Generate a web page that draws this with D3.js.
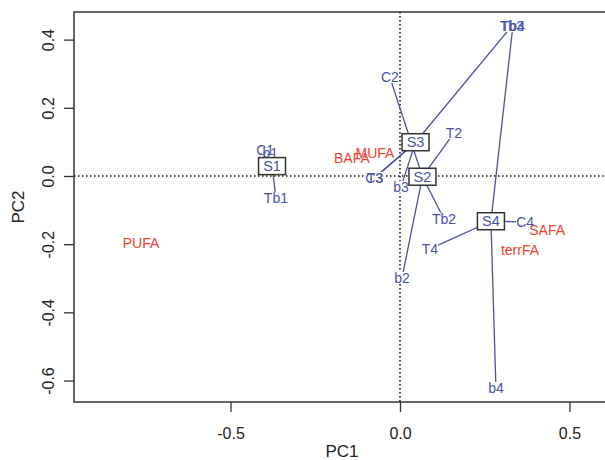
<!DOCTYPE html>
<html><head><meta charset="utf-8">
<script src="https://cdn.jsdelivr.net/npm/d3@7"></script>
<style>body{margin:0;background:#fff}svg{display:block;font-family:"Liberation Sans",Arial,sans-serif}</style>
</head><body><svg id="c" width="605" height="460"></svg>
<script>
// ---- data ----
const sites = ["S1", "S2", "S3", "S4"];
const pointLabels = ["C1","b1","T1","Tb1", "C2","T2","Tb2","b2", "C3","T3","b3","Tb4", "Tb3","C4","T4","b4"];
const pointSite   = ["S1","S1","S1","S1", "S2","S2","S2","S2", "S3","S3","S3","S4", "S3","S4","S4","S4"];
const pointPC1 = [-0.398,-0.383,-0.363,-0.366, -0.030,0.159,0.130,0.006, -0.076,-0.074,0.003,0.333, 0.330,0.369,0.088,0.283];
const pointPC2 = [0.076,0.067,0.038,-0.065, 0.290,0.126,-0.126,-0.299, -0.006,-0.006,-0.032,0.440, 0.440,-0.135,-0.214,-0.622];
const varLabels = ["PUFA","BAFA","MUFA","SAFA","terrFA"];
const varPC1 = [-0.764,-0.142,-0.074,0.434,0.354];
const varPC2 = [-0.196,0.053,0.067,-0.158,-0.217];
const xTicks = [-0.5, 0.0, 0.5];
const yTicks = [-0.6, -0.4, -0.2, 0.0, 0.2, 0.4];

// ---- layout ----
const L = 74, R = 610, T = 12, B = 402;
const blue = "#4a52a6", red = "#e8432f", dark = "#333";
const x = d3.scaleLinear().domain([-0.9617, 0.6195]).range([L, R]);
const y = d3.scaleLinear().domain([-0.663, 0.481]).range([B, T]);
const svg = d3.select("#c");

// zero lines
svg.append("line").attr("x1", x(0)).attr("x2", x(0)).attr("y1", T).attr("y2", B)
  .attr("stroke", "#111").attr("stroke-width", 1.5).attr("stroke-dasharray", "1.5,2.5");
svg.append("line").attr("x1", L).attr("x2", R).attr("y1", y(0)).attr("y2", y(0))
  .attr("stroke", "#111").attr("stroke-width", 1.5).attr("stroke-dasharray", "1.5,2.5");

// centroids
const pts = pointLabels.map((l, i) => ({label: l, site: pointSite[i], px: pointPC1[i], py: pointPC2[i]}));
const cent = sites.map(s => {
  const p = pts.filter(d => d.site === s);
  return {site: s, cx: d3.mean(p, d => d.px), cy: d3.mean(p, d => d.py)};
});
const centBy = Object.fromEntries(cent.map(c => [c.site, c]));

// star lines
svg.append("g").selectAll("line").data(pts).join("line")
  .attr("x1", d => x(centBy[d.site].cx)).attr("y1", d => y(centBy[d.site].cy))
  .attr("x2", d => x(d.px)).attr("y2", d => y(d.py))
  .attr("stroke", blue).attr("stroke-width", 1.3);

// point labels with white backgrounds
const bgG = svg.append("g"), txG = svg.append("g");
const ptText = txG.selectAll("text").data(pts).join("text")
  .attr("x", d => x(d.px)).attr("y", d => y(d.py)).attr("dy", "0.35em")
  .attr("text-anchor", "middle").attr("font-size", 14).attr("fill", blue).text(d => d.label);
ptText.each(function() {
  const b = this.getBBox();
  bgG.append("rect").attr("x", b.x).attr("y", b.y + 2).attr("width", b.width).attr("height", b.height - 4).attr("fill", "#fff");
});

// variable labels
svg.append("g").selectAll("text").data(varLabels).join("text")
  .attr("x", (d, i) => x(varPC1[i])).attr("y", (d, i) => y(varPC2[i])).attr("dy", "0.35em")
  .attr("text-anchor", "middle").attr("font-size", 14).attr("fill", red).text(d => d);

// centroid boxes
const cg = svg.append("g").selectAll("g").data(cent).join("g")
  .attr("transform", d => `translate(${x(d.cx)},${y(d.cy)})`);
cg.append("rect").attr("x", -13.5).attr("y", -8.5).attr("width", 27).attr("height", 17)
  .attr("fill", "#fff").attr("stroke", dark).attr("stroke-width", 1.5);
cg.append("text").attr("text-anchor", "middle").attr("dy", "0.36em").attr("font-size", 14.5)
  .attr("fill", blue).text(d => d.site);

// axes
const fmt = d => d.toFixed(1);
const ax = svg.append("g").attr("transform", `translate(0,${B})`)
  .call(d3.axisBottom(x).tickValues(xTicks).tickSize(10).tickFormat(fmt));
ax.select(".domain").remove();
ax.selectAll("line").attr("stroke", dark).attr("stroke-width", 1.3);
ax.selectAll("text").attr("y", 37).attr("dy", 0).attr("font-size", 16).attr("fill", "#222")
  .attr("font-family", "Liberation Sans, Arial, sans-serif");

const ay = svg.append("g").attr("transform", `translate(${L},0)`)
  .call(d3.axisLeft(y).tickValues(yTicks).tickSize(10).tickFormat(fmt));
ay.select(".domain").remove();
ay.selectAll("line").attr("stroke", dark).attr("stroke-width", 1.3);
ay.selectAll("text").attr("x", null).attr("dy", 0).attr("text-anchor", "middle")
  .attr("transform", "translate(-20.5,0) rotate(-90)")
  .attr("font-size", 16).attr("fill", "#222").attr("font-family", "Liberation Sans, Arial, sans-serif");

// frame
svg.append("rect").attr("x", L).attr("y", T).attr("width", R - L).attr("height", B - T)
  .attr("fill", "none").attr("stroke", dark).attr("stroke-width", 1.5);

// axis titles
svg.append("text").attr("x", (L + R) / 2).attr("y", 456.5).attr("text-anchor", "middle")
  .attr("font-size", 17).attr("fill", "#222").text("PC1");
svg.append("text").attr("transform", `translate(24,${(T + B) / 2}) rotate(-90)`).attr("text-anchor", "middle")
  .attr("font-size", 17).attr("fill", "#222").text("PC2");
</script></body></html>
